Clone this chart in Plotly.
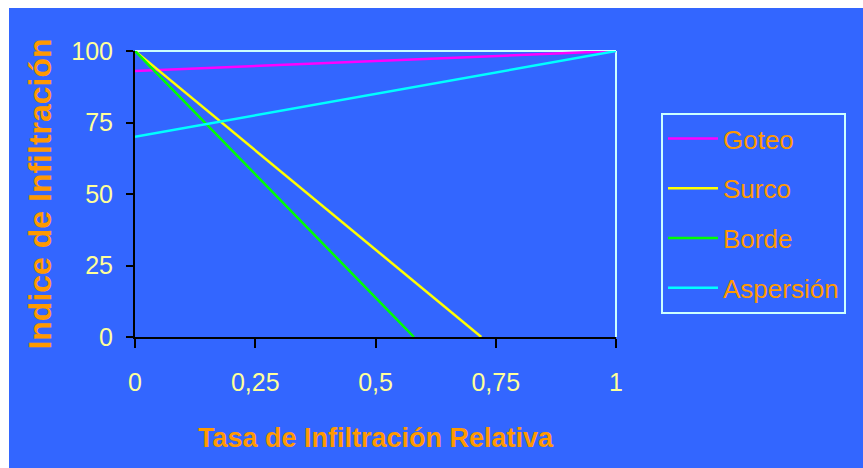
import plotly.graph_objects as go

# Series: relative infiltration rate (x) vs infiltration index (y)
series_names = ["Goteo", "Surco", "Borde", "Aspersión"]
goteo_x = [0, 1]
goteo_y = [93, 100]
surco_x = [0, 0.72]
surco_y = [100, 0]
borde_x = [0, 0.58]
borde_y = [100, 0]
aspersion_x = [0, 1]
aspersion_y = [70, 100]

x_ticks = [0, 0.25, 0.5, 0.75, 1]
y_ticks = [0, 25, 50, 75, 100]

colors = ["#FF00FF", "#FFFF00", "#00FF00", "#00FFFF"]
BLUE = "#3366FF"
ORANGE = "#FF9900"
PALE = "#FFFF99"
SANS = "Liberation Sans, Arial"

W, H = 863, 468
L, R, T, B = 135, 247, 51, 131
pw, ph = W - L - R, H - T - B

fig = go.Figure()
for i, (name, xs, ys) in enumerate(zip(
        series_names,
        [goteo_x, surco_x, borde_x, aspersion_x],
        [goteo_y, surco_y, borde_y, aspersion_y])):
    fig.add_trace(go.Scatter(
        x=xs, y=ys, mode="lines", name=name, legendgroup=name,
        line=dict(color=colors[i], width=2.5), cliponaxis=False))

# white strips on the top and left edges of the page
fig.add_shape(type="rect", xref="paper", yref="paper", layer="below",
              x0=(-L - 5) / pw, x1=(9 - L) / pw, y0=-2, y1=2,
              fillcolor="white", line_width=0)
fig.add_shape(type="rect", xref="paper", yref="paper", layer="below",
              x0=-1, x1=2, y0=(H - B - 8) / ph, y1=(H - B + 5) / ph,
              fillcolor="white", line_width=0)
# light frame on top and right of the plot area
fig.add_shape(type="line", xref="paper", yref="paper", x0=0, x1=1, y0=1, y1=1,
              line=dict(color="#CCFFFF", width=2), layer="below")
fig.add_shape(type="line", xref="paper", yref="paper", x0=1, x1=1, y0=0, y1=1,
              line=dict(color="#CCFFFF", width=2), layer="below")

fig.update_layout(
    width=W, height=H,
    margin=dict(l=L, r=R, t=T, b=B, autoexpand=False),
    paper_bgcolor=BLUE, plot_bgcolor=BLUE,
    separators=",.",
    showlegend=True,
    legend=dict(
        x=(661 - L) / pw, xanchor="left",
        y=(H - B - 113) / ph, yanchor="top",
        bordercolor="#CCFFFF", borderwidth=2, bgcolor=BLUE,
        font=dict(family=SANS, size=26, color=ORANGE),
        tracegroupgap=13, itemwidth=50,
    ),
    xaxis=dict(
        range=[0, 1], tickvals=x_ticks, showgrid=False, zeroline=False,
        showline=True, linecolor="black", linewidth=2,
        ticks="outside", ticklen=9, tickwidth=2, tickcolor="black",
        tickfont=dict(family=SANS, size=25, color=PALE),
        ticklabelstandoff=13,
        title=dict(text="<b>Tasa de Infiltración Relativa</b>",
                   font=dict(family=SANS, size=27, color=ORANGE), standoff=33),
    ),
    yaxis=dict(
        range=[0, 100], tickvals=y_ticks, showgrid=False, zeroline=False,
        showline=True, linecolor="black", linewidth=2,
        ticks="outside", ticklen=7, tickwidth=2, tickcolor="black",
        tickfont=dict(family=SANS, size=25, color=PALE),
        ticklabelstandoff=8,
        title=dict(text="<b>Indice de Infiltración</b>",
                   font=dict(family=SANS, size=32, color=ORANGE), standoff=10),
    ),
)

fig.write_html("out.html")
